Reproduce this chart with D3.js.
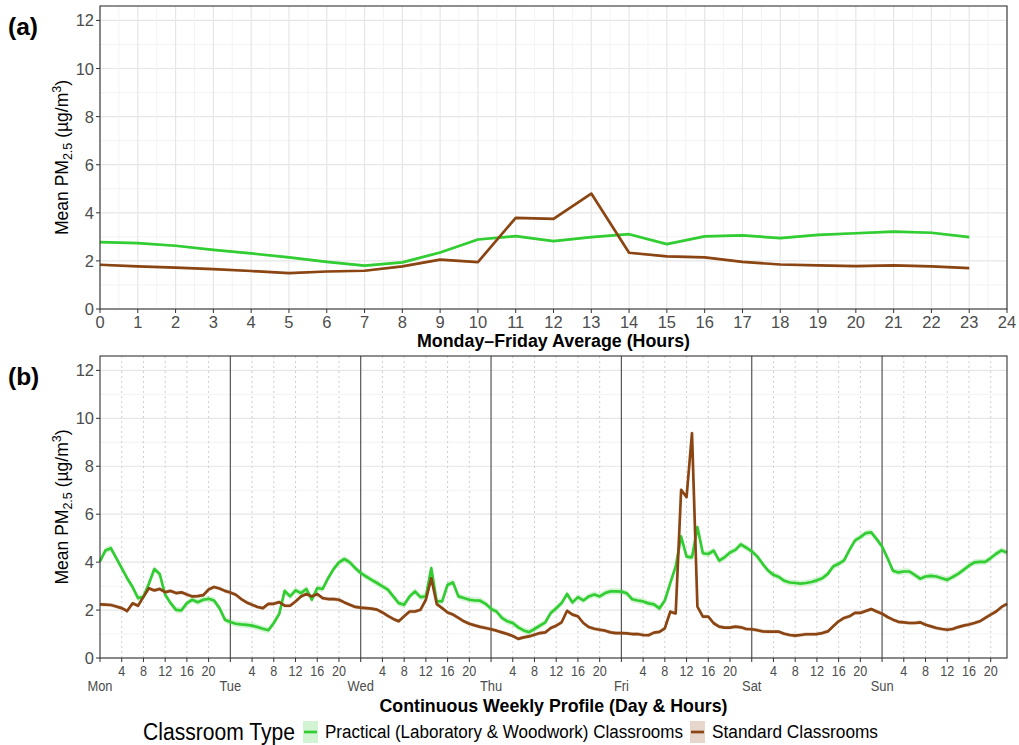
<!DOCTYPE html>
<html>
<head>
<meta charset="utf-8">
<script src="https://cdn.jsdelivr.net/npm/d3@7"></script>
<style>
  body { margin: 0; background: #fff; }
  text { font-family: "Liberation Sans", Arial, sans-serif; }
</style>
</head>
<body>
<div id="chart"></div>
<script>
// ---- data ----
// (a) Monday-Friday average by hour
const hoursA = [0,1,2,3,4,5,6,7,8,9,10,11,12,13,14,15,16,17,18,19,20,21,22,23];
const practicalA = [2.78,2.74,2.63,2.46,2.31,2.15,1.96,1.80,1.94,2.35,2.89,3.03,2.82,2.99,3.11,2.70,3.02,3.06,2.95,3.08,3.15,3.22,3.17,2.99];
const standardA  = [1.84,1.77,1.72,1.66,1.58,1.49,1.56,1.59,1.77,2.05,1.95,3.79,3.75,4.80,2.34,2.19,2.15,1.96,1.85,1.81,1.78,1.81,1.77,1.70];

// (b) continuous weekly profile, one array per day (hours 0-23)
const days = ["Mon","Tue","Wed","Thu","Fri","Sat","Sun"];
const practicalMon = [4.03,4.49,4.58,4.17,3.75,3.33,2.96,2.50,2.55,3.10,3.71,3.50,2.64,2.29,2.01,1.99,2.29,2.43,2.33,2.43,2.47,2.40,2.08,1.60];
const practicalTue = [1.50,1.43,1.40,1.38,1.35,1.29,1.22,1.16,1.46,1.84,2.80,2.57,2.82,2.71,2.88,2.43,2.92,2.88,3.33,3.71,3.99,4.13,3.99,3.75];
const practicalWed = [3.55,3.40,3.26,3.13,2.99,2.85,2.57,2.29,2.22,2.57,2.78,2.54,2.57,3.75,2.36,2.36,3.06,3.15,2.57,2.50,2.43,2.40,2.39,2.26];
const practicalThu = [2.05,1.94,1.67,1.53,1.46,1.28,1.15,1.08,1.21,1.35,1.49,1.88,2.08,2.29,2.67,2.32,2.54,2.40,2.57,2.65,2.57,2.71,2.78,2.78];
const practicalFri = [2.77,2.70,2.45,2.40,2.36,2.28,2.24,2.07,2.40,3.12,3.82,5.07,4.23,4.20,5.46,4.37,4.34,4.48,4.06,4.20,4.40,4.51,4.74,4.60];
const practicalSat = [4.45,4.24,3.93,3.65,3.47,3.38,3.22,3.15,3.13,3.10,3.13,3.17,3.24,3.33,3.51,3.82,3.93,4.07,4.51,4.90,5.04,5.21,5.24,4.96];
const practicalSun = [4.65,4.17,3.64,3.57,3.61,3.61,3.47,3.31,3.40,3.43,3.40,3.33,3.26,3.38,3.51,3.68,3.85,3.99,4.01,4.01,4.17,4.35,4.49,4.40];

const standardMon = [2.24,2.23,2.21,2.15,2.08,1.96,2.28,2.18,2.55,2.91,2.82,2.88,2.75,2.80,2.71,2.74,2.65,2.57,2.58,2.62,2.86,2.96,2.90,2.80];
const standardTue = [2.73,2.64,2.46,2.32,2.22,2.13,2.08,2.26,2.26,2.33,2.18,2.18,2.36,2.57,2.67,2.57,2.67,2.50,2.46,2.46,2.43,2.32,2.22,2.13];
const standardWed = [2.10,2.08,2.06,2.02,1.90,1.76,1.63,1.53,1.74,1.94,1.94,2.01,2.43,3.33,2.25,2.08,1.90,1.81,1.67,1.53,1.43,1.36,1.30,1.25];
const standardThu = [1.20,1.14,1.07,1.00,0.92,0.80,0.86,0.90,0.97,1.04,1.07,1.25,1.35,1.49,1.97,1.81,1.74,1.46,1.29,1.22,1.18,1.14,1.07,1.04];
const standardFri = [1.04,1.03,1.00,1.00,0.96,0.95,1.06,1.09,1.24,1.93,1.86,7.02,6.71,9.38,2.14,1.73,1.73,1.45,1.31,1.27,1.27,1.31,1.28,1.21];
const standardSat = [1.20,1.16,1.11,1.10,1.10,1.10,1.01,0.96,0.93,0.96,0.99,0.99,1.00,1.04,1.11,1.32,1.53,1.67,1.74,1.88,1.88,1.96,2.04,1.94];
const standardSun = [1.85,1.71,1.60,1.51,1.49,1.46,1.46,1.49,1.39,1.32,1.25,1.21,1.18,1.21,1.29,1.35,1.40,1.46,1.53,1.67,1.81,1.94,2.13,2.26];

// approx. half-width of the confidence ribbons (µg/m3)
const ribbonA = {practical: 0.05, standard: 0.04};
const ribbonB = {practical: 0.13, standard: 0.08};

const yTicks = [0,2,4,6,8,10,12];
const hourTicksB = [4,8,12,16,20];
const seriesNames = ["Practical (Laboratory & Woodwork) Classrooms", "Standard Classrooms"];
const colors = {practical: "#32cd32", standard: "#8b4513"};

// ---- build the series ----
let seriesA = [
    {key: "practical", values: hoursA.map((h, i) => ({x: h, y: practicalA[i]}))},
    {key: "standard", values: hoursA.map((h, i) => ({x: h, y: standardA[i]}))}
];

function weekly(dayArrays) {
    let out = [];
    dayArrays.forEach((arr, d) => arr.forEach((v, h) => out.push({x: d * 24 + h, y: v})));
    return out;
}
let seriesB = [
    {key: "practical", values: weekly([practicalMon, practicalTue, practicalWed, practicalThu, practicalFri, practicalSat, practicalSun])},
    {key: "standard", values: weekly([standardMon, standardTue, standardWed, standardThu, standardFri, standardSat, standardSun])}
];

// ---- svg ----
const W = 1019, H = 745;
const left = 100, right = 1007;
const svg = d3.select("#chart").append("svg")
    .attr("width", W).attr("height", H)
    .style("background", "#fff");

function yTitle(g, cy) {
    let t = g.append("text")
        .attr("transform", `translate(68, ${cy}) rotate(-90)`)
        .attr("text-anchor", "middle")
        .attr("font-size", 17.5)
        .attr("fill", "#000");
    t.append("tspan").text("Mean PM");
    t.append("tspan").attr("font-size", 12.5).attr("dy", 4).text("2.5");
    t.append("tspan").attr("dy", -4).text(" (µg/m");
    t.append("tspan").attr("font-size", 12.5).attr("dy", -7).text("3");
    t.append("tspan").attr("dy", 7).text(")");
}

function drawPanel(opts) {
    let g = svg.append("g");
    let x = d3.scaleLinear().domain(opts.xDomain).range([left, right]);
    let y = d3.scaleLinear().domain([0, 12.6]).range([opts.bottom, opts.top]);

    // horizontal grid
    g.selectAll(".ymin").data([1,3,5,7,9,11]).enter().append("line")
        .attr("x1", left).attr("x2", right)
        .attr("y1", d => y(d)).attr("y2", d => y(d))
        .attr("stroke", "#f0f0f0").attr("stroke-width", 0.8);
    g.selectAll(".ymaj").data(yTicks).enter().append("line")
        .attr("x1", left).attr("x2", right)
        .attr("y1", d => y(d)).attr("y2", d => y(d))
        .attr("stroke", "#e6e6e6").attr("stroke-width", 1.2);

    opts.xGrid(g, x, y);

    // ribbons and lines
    let area = d3.area().x(d => x(d.x))
        .y0(d => y(d.y - d.hw)).y1(d => y(d.y + d.hw));
    let line = d3.line().x(d => x(d.x)).y(d => y(d.y));
    opts.series.forEach(s => {
        let hw = opts.ribbon[s.key];
        g.append("path")
            .datum(s.values.map(d => ({x: d.x, y: d.y, hw: hw})))
            .attr("d", area)
            .attr("fill", colors[s.key]).attr("fill-opacity", 0.22);
    });
    opts.series.forEach(s => {
        g.append("path")
            .datum(s.values)
            .attr("d", line)
            .attr("fill", "none")
            .attr("stroke", colors[s.key])
            .attr("stroke-width", 2.7)
            .attr("stroke-linejoin", "round");
    });

    // border
    g.append("rect")
        .attr("x", left).attr("y", opts.top)
        .attr("width", right - left).attr("height", opts.bottom - opts.top)
        .attr("fill", "none").attr("stroke", "#333").attr("stroke-width", 1.1);

    // y axis
    g.selectAll(".ytick").data(yTicks).enter().append("line")
        .attr("x1", left - 4).attr("x2", left)
        .attr("y1", d => y(d)).attr("y2", d => y(d))
        .attr("stroke", "#333");
    g.selectAll(".ylab").data(yTicks).enter().append("text")
        .attr("x", left - 6).attr("y", d => y(d) + 6)
        .attr("text-anchor", "end")
        .attr("font-size", 16.5).attr("fill", "#4d4d4d")
        .text(d => d);

    opts.xAxis(g, x, y);
    yTitle(g, (opts.top + opts.bottom) / 2);

    g.append("text")
        .attr("x", 8).attr("y", opts.top + 29)
        .attr("font-size", 24.5).attr("font-weight", "bold")
        .text(opts.label);
}

// ---- panel (a) ----
drawPanel({
    top: 6, bottom: 309, xDomain: [0, 24], label: "(a)",
    series: seriesA, ribbon: ribbonA,
    xGrid: (g, x, y) => {
        let halves = [], ints = [];
        for (let i = 0; i <= 24; i++) { ints.push(i); if (i < 24) halves.push(i + 0.5); }
        g.selectAll(".xmin").data(halves).enter().append("line")
            .attr("x1", d => x(d)).attr("x2", d => x(d))
            .attr("y1", y(0)).attr("y2", y(12.6))
            .attr("stroke", "#f0f0f0").attr("stroke-width", 0.8);
        g.selectAll(".xmaj").data(ints).enter().append("line")
            .attr("x1", d => x(d)).attr("x2", d => x(d))
            .attr("y1", y(0)).attr("y2", y(12.6))
            .attr("stroke", "#e6e6e6").attr("stroke-width", 1.2);
    },
    xAxis: (g, x, y) => {
        let ticks = hoursA.concat([24]);
        g.selectAll(".xtick").data(ticks).enter().append("line")
            .attr("x1", d => x(d)).attr("x2", d => x(d))
            .attr("y1", y(0)).attr("y2", y(0) + 4)
            .attr("stroke", "#333");
        g.selectAll(".xlab").data(ticks).enter().append("text")
            .attr("x", d => x(d)).attr("y", y(0) + 19)
            .attr("text-anchor", "middle")
            .attr("font-size", 16.5).attr("fill", "#4d4d4d")
            .text(d => d);
        g.append("text")
            .attr("x", (left + right) / 2).attr("y", y(0) + 38)
            .attr("text-anchor", "middle")
            .attr("font-size", 18).attr("font-weight", "bold")
            .attr("textLength", 273).attr("lengthAdjust", "spacingAndGlyphs")
            .text("Monday\u2013Friday Average (Hours)");
    }
});

// ---- panel (b) ----
drawPanel({
    top: 356, bottom: 658, xDomain: [0, 167], label: "(b)",
    series: seriesB, ribbon: ribbonB,
    xGrid: (g, x, y) => {
        let hourPos = [];
        days.forEach((d, i) => hourTicksB.forEach(h => hourPos.push(i * 24 + h)));
        g.selectAll(".xdot").data(hourPos).enter().append("line")
            .attr("x1", d => x(d)).attr("x2", d => x(d))
            .attr("y1", y(0)).attr("y2", y(12.6))
            .attr("stroke", "#c8c8c8").attr("stroke-width", 0.9)
            .attr("stroke-dasharray", "2,3");
        g.selectAll(".dayline").data(days.slice(1)).enter().append("line")
            .attr("x1", (d, i) => x((i + 1) * 24)).attr("x2", (d, i) => x((i + 1) * 24))
            .attr("y1", y(0)).attr("y2", y(12.6))
            .attr("stroke", "#555").attr("stroke-width", 1.2);
    },
    xAxis: (g, x, y) => {
        let hourPos = [], hourLab = [];
        days.forEach((d, i) => hourTicksB.forEach(h => { hourPos.push(i * 24 + h); hourLab.push(h); }));
        let all = hourPos.concat(days.map((d, i) => i * 24));
        g.selectAll(".xtick").data(all).enter().append("line")
            .attr("x1", d => x(d)).attr("x2", d => x(d))
            .attr("y1", y(0)).attr("y2", y(0) + 4)
            .attr("stroke", "#333");
        g.selectAll(".hlab").data(hourPos).enter().append("text")
            .attr("transform", d => `translate(${x(d)}, ${y(0) + 18}) scale(0.84,1)`)
            .attr("text-anchor", "middle")
            .attr("font-size", 15).attr("fill", "#4d4d4d")
            .text((d, i) => hourLab[i]);
        g.selectAll(".dlab").data(days).enter().append("text")
            .attr("transform", (d, i) => `translate(${x(i * 24)}, ${y(0) + 33}) scale(0.86,1)`)
            .attr("text-anchor", "middle")
            .attr("font-size", 15).attr("fill", "#4d4d4d")
            .text(d => d);
        g.append("text")
            .attr("x", (left + right) / 2).attr("y", y(0) + 54)
            .attr("text-anchor", "middle")
            .attr("font-size", 18.5).attr("font-weight", "bold")
            .attr("textLength", 348).attr("lengthAdjust", "spacingAndGlyphs")
            .text("Continuous Weekly Profile (Day & Hours)");
    }
});

// ---- legend ----
let lg = svg.append("g");
lg.append("text")
    .attr("x", 143).attr("y", 740)
    .attr("font-size", 23)
    .attr("textLength", 152).attr("lengthAdjust", "spacingAndGlyphs")
    .text("Classroom Type");
let keyX = [303, 690], labX = [325, 712], labW = [358, 166];
["practical", "standard"].forEach((k, i) => {
    lg.append("rect")
        .attr("x", keyX[i]).attr("y", 721)
        .attr("width", 15).attr("height", 22)
        .attr("fill", colors[k]).attr("fill-opacity", 0.22);
    lg.append("line")
        .attr("x1", keyX[i] + 1).attr("x2", keyX[i] + 14)
        .attr("y1", 732).attr("y2", 732)
        .attr("stroke", colors[k]).attr("stroke-width", 2.7);
    lg.append("text")
        .attr("x", labX[i]).attr("y", 738)
        .attr("font-size", 18)
        .attr("textLength", labW[i]).attr("lengthAdjust", "spacingAndGlyphs")
        .text(seriesNames[i]);
});
</script>
</body>
</html>
